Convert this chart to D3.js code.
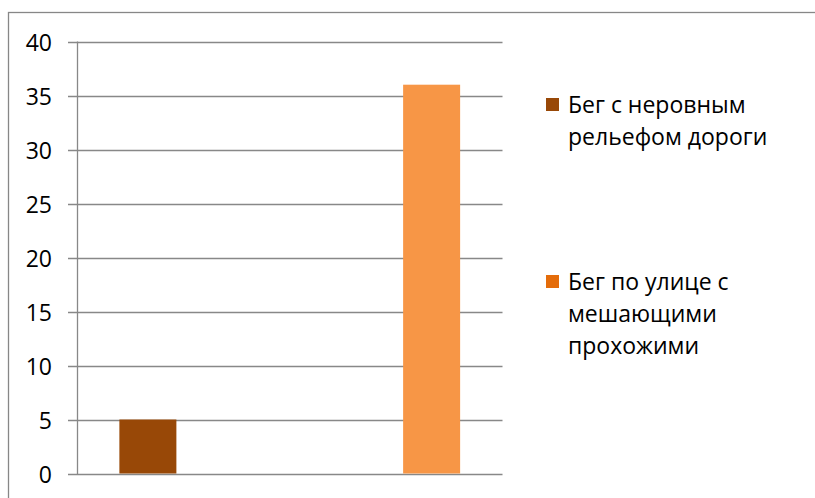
<!DOCTYPE html>
<html>
<head>
<meta charset="utf-8">
<script src="https://cdn.jsdelivr.net/npm/d3@7"></script>
<style>
  html, body { margin: 0; padding: 0; background: #fff; }
  svg { display: block; }
  text { font-family: "Open Sans", sans-serif; fill: #000; }
</style>
</head>
<body>
<script>
const categories = ["1", "2"];
const seriesNames = ["Бег с неровным рельефом дороги", "Бег по улице с мешающими прохожими"];
const series1Values = [5, 0];
const series2Values = [0, 36];
const yTicks = [0, 5, 10, 15, 20, 25, 30, 35, 40];
const legendLines = [["Бег с неровным", "рельефом дороги"], ["Бег по улице с", "мешающими", "прохожими"]];
const barColors = ["#984807", "#F79646"];
const legendColors = ["#984807", "#E46C0A"];

const W = 815, H = 498;
const svg = d3.select("body").append("svg").attr("width", W).attr("height", H);

// outer frame
svg.append("rect").attr("x", 8.5).attr("y", 12.5).attr("width", 900).attr("height", 600)
  .attr("fill", "none").attr("stroke", "#878787").attr("stroke-width", 1.3);

const plot = { left: 77, right: 502.5, top: 41.5, bottom: 473.5 };
const y = d3.scaleLinear().domain([0, 40]).range([plot.bottom, plot.top]);
const x0 = d3.scaleBand().domain(categories).range([plot.left, plot.right]).padding(0);
const x1 = d3.scaleBand().domain([0, 1]).range([0, x0.bandwidth()]).paddingInner(0.197).paddingOuter(0.597);

// gridlines + ticks
const grid = svg.append("g");
grid.selectAll("line").data(yTicks).join("line")
  .attr("x1", plot.left - 9).attr("x2", plot.right)
  .attr("y1", d => Math.round(y(d)) + 0.5).attr("y2", d => Math.round(y(d)) + 0.5)
  .attr("stroke", "#888").attr("stroke-width", 1.3);

// y axis labels
svg.append("g").selectAll("text").data(yTicks).join("text")
  .attr("x", 52).attr("y", d => y(d))
  .attr("text-anchor", "end").attr("dominant-baseline", "central")
  .style("font-size", "23px")
  .text(d => d);

// bars
const allSeries = [series1Values, series2Values];
allSeries.forEach((vals, si) => {
  svg.append("g").selectAll("rect").data(categories.map((c, i) => ({ c, v: vals[i] })).filter(d => d.v > 0))
    .join("rect")
    .attr("x", d => x0(d.c) + x1(si))
    .attr("width", x1.bandwidth())
    .attr("y", d => y(d.v))
    .attr("height", d => y(0) - y(d.v))
    .attr("fill", barColors[si]);
});

// y axis line
svg.append("line").attr("x1", plot.left + 0.5).attr("x2", plot.left + 0.5)
  .attr("y1", plot.top).attr("y2", plot.bottom + 0.5)
  .attr("stroke", "#888").attr("stroke-width", 1.3);

// legend
const legendY = [98, 275];
const lg = svg.append("g");
seriesNames.forEach((name, i) => {
  lg.append("rect").attr("x", 546).attr("y", legendY[i]).attr("width", 13).attr("height", 13)
    .attr("fill", legendColors[i]);
  const t = lg.append("text").attr("x", 568).attr("y", legendY[i] + 15).style("font-size", "23px");
  legendLines[i].forEach((ln, j) => {
    t.append("tspan").attr("x", 568).attr("dy", j === 0 ? 0 : 32).text(ln);
  });
});
</script>
</body>
</html>
